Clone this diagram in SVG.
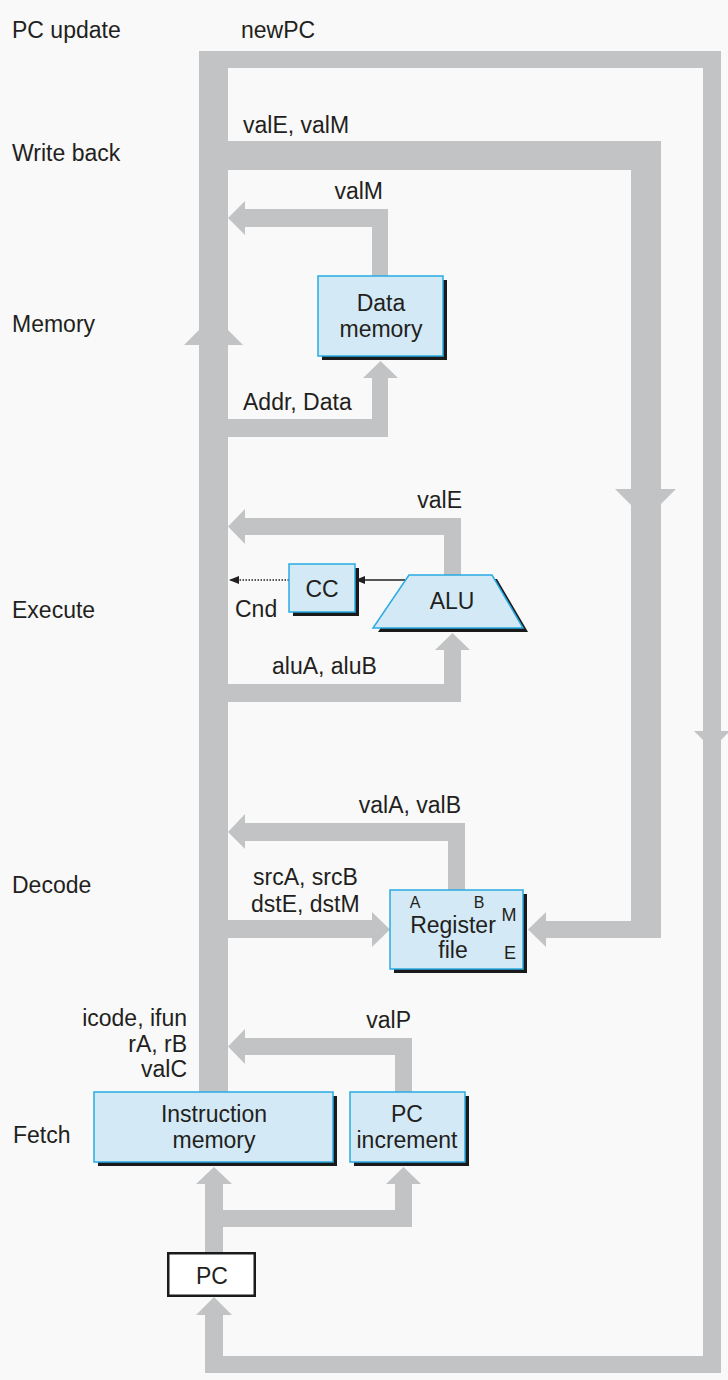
<svg xmlns="http://www.w3.org/2000/svg" width="728" height="1380" viewBox="0 0 728 1380">
<style>
text{font-family:"Liberation Sans",Arial,sans-serif;font-size:23px;fill:#231f20}
.sm{font-size:16px}
.md{font-size:18px}
.c{text-anchor:middle}
.e{text-anchor:end}
.w{fill:#c2c3c5;stroke:none}
.box{fill:#d3e9f5;stroke:#29abe2;stroke-width:1.5}
.sh{fill:#1a1a1a}
</style>
<defs>
<marker id="ah" markerWidth="10" markerHeight="8" refX="10" refY="4" orient="auto" markerUnits="userSpaceOnUse">
<path d="M0,0 L10,4 L0,8 z" fill="#231f20"/>
</marker>
</defs>
<rect width="728" height="1380" fill="#f9f9f9"/>

<g id="stage-labels">
<text x="12" y="38">PC update</text>
<text x="12" y="161">Write back</text>
<text x="12" y="332">Memory</text>
<text x="12" y="618">Execute</text>
<text x="12" y="893">Decode</text>
<text x="13" y="1143">Fetch</text>
</g>

<g id="connectors">
<rect class="w" x="199" y="51" width="29" height="1041"/>
<polygon class="w" points="184,345 243,345 213.5,315.5"/>
<rect class="w" x="199" y="51" width="522" height="17"/>
<rect class="w" x="703" y="51" width="18" height="1322"/>
<polygon class="w" points="694,731 730,731 712,749"/>
<rect class="w" x="205" y="1356" width="516" height="17"/>
<rect class="w" x="205" y="1315" width="18" height="58"/>
<polygon class="w" points="196,1315 232,1315 214,1297"/>
<rect class="w" x="228" y="141" width="433" height="29"/>
<rect class="w" x="631" y="141" width="30" height="797"/>
<polygon class="w" points="615,489 676,489 645.5,519.5"/>
<rect class="w" x="546" y="921" width="115" height="17"/>
<polygon class="w" points="528,929.5 546,912 546,947"/>
<rect class="w" x="245" y="209" width="143" height="18"/>
<rect class="w" x="372" y="209" width="16" height="67"/>
<polygon class="w" points="228,218 245,201 245,235"/>
<rect class="w" x="228" y="419" width="160" height="18"/>
<rect class="w" x="372" y="378" width="16" height="59"/>
<polygon class="w" points="363,378 398,378 380.5,361"/>
<rect class="w" x="245" y="518" width="216" height="17"/>
<rect class="w" x="444" y="518" width="17" height="57"/>
<polygon class="w" points="228,526.5 245,509 245,544"/>
<rect class="w" x="228" y="684" width="233" height="18"/>
<rect class="w" x="444" y="650" width="17" height="52"/>
<polygon class="w" points="435,650 470,650 452.5,633"/>
<line x1="405" y1="580" x2="355" y2="580" stroke="#231f20" stroke-width="1.5" marker-end="url(#ah)"/>
<line x1="289" y1="580" x2="229" y2="580" stroke="#231f20" stroke-width="1.5" stroke-dasharray="1.5,1.5" marker-end="url(#ah)"/>
<rect class="w" x="245" y="823" width="220" height="18"/>
<rect class="w" x="448" y="823" width="17" height="67"/>
<polygon class="w" points="228,832 245,814 245,849"/>
<rect class="w" x="228" y="920" width="145" height="18"/>
<polygon class="w" points="372,912 372,947 390,929.5"/>
<rect class="w" x="245" y="1038" width="167" height="17"/>
<rect class="w" x="395" y="1038" width="17" height="54"/>
<polygon class="w" points="228,1046.5 245,1029 245,1064"/>
<rect class="w" x="205" y="1184" width="18" height="68"/>
<polygon class="w" points="196,1184 232,1184 214,1167"/>
<rect class="w" x="205" y="1210" width="207" height="17"/>
<rect class="w" x="395" y="1184" width="17" height="43"/>
<polygon class="w" points="386,1184 421,1184 403.5,1167"/>
</g>

<g id="connector-labels">
<text x="241" y="38">newPC</text>
<text x="243" y="133">valE, valM</text>
<text class="e" x="383" y="199">valM</text>
<text x="243" y="410">Addr, Data</text>
<text class="e" x="462" y="508">valE</text>
<text x="235" y="617">Cnd</text>
<text x="272" y="674">aluA, aluB</text>
<text class="e" x="461" y="813">valA, valB</text>
<text x="253" y="885">srcA, srcB</text>
<text x="251" y="912">dstE, dstM</text>
<text class="e" x="187" y="1026">icode, ifun</text>
<text class="e" x="187" y="1052">rA, rB</text>
<text class="e" x="187" y="1077">valC</text>
<text class="e" x="411" y="1028">valP</text>
</g>

<g id="data-memory">
<rect class="sh" x="322" y="280" width="125" height="80"/>
<rect class="box" x="318" y="276" width="125" height="80"/>
<text class="c" x="381" y="311">Data</text>
<text class="c" x="381" y="337">memory</text>
</g>

<g id="cc">
<rect class="sh" x="293" y="568" width="66" height="48"/>
<rect class="box" x="289" y="564" width="66" height="48"/>
<text class="c" x="322" y="597">CC</text>
</g>

<g id="alu">
<polygon class="sh" points="414,579 497,579 528,632 378,632"/>
<polygon class="box" points="409,575 492,575 523,628 373,628"/>
<text class="c" x="452" y="609">ALU</text>
</g>

<g id="register-file">
<rect class="sh" x="394" y="894" width="133" height="79"/>
<rect class="box" x="390" y="890" width="133" height="79"/>
<text class="c sm" x="415" y="908">A</text>
<text class="c sm" x="479" y="908">B</text>
<text class="c md" x="509" y="921">M</text>
<text class="c md" x="510" y="959">E</text>
<text class="c" x="453" y="933">Register</text>
<text class="c" x="453" y="958">file</text>
</g>

<g id="instruction-memory">
<rect class="sh" x="98" y="1096" width="239" height="70"/>
<rect class="box" x="94" y="1092" width="239" height="70"/>
<text class="c" x="214" y="1122">Instruction</text>
<text class="c" x="214" y="1148">memory</text>
</g>

<g id="pc-increment">
<rect class="sh" x="354" y="1096" width="115" height="70"/>
<rect class="box" x="350" y="1092" width="115" height="70"/>
<text class="c" x="407" y="1122">PC</text>
<text class="c" x="407" y="1148">increment</text>
</g>

<g id="pc">
<rect x="168.25" y="1253.25" width="86.5" height="42.5" fill="#ffffff" stroke="#1a1a1a" stroke-width="2.5"/>
<text class="c" x="212" y="1284">PC</text>
</g>
</svg>
